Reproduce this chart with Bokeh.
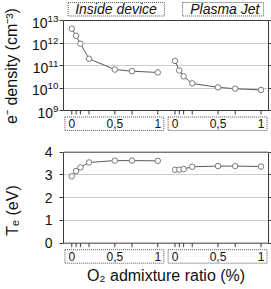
import math
from bokeh.plotting import figure
from bokeh.models import LogAxis, LinearAxis, FixedTicker, Span, Range1d, Grid
from bokeh.layouts import column
from bokeh.embed import file_html
from bokeh.resources import INLINE
from bokeh.core.properties import value

# ---------------- data ----------------
o2_ratio = [0.0, 0.05, 0.1, 0.2, 0.5, 0.7, 1.0]          # O2 admixture ratio (%)
inside_ne = [4.3e12, 2.1e12, 9.3e11, 2.0e11, 6.6e10, 5.6e10, 4.9e10]
jet_ne = [1.6e11, 6.0e10, 3.3e10, 1.6e10, 1.07e10, 9.3e9, 8.2e9]
inside_te = [2.94, 3.17, 3.33, 3.55, 3.63, 3.63, 3.62]
jet_te = [3.23, 3.23, 3.26, 3.36, 3.39, 3.39, 3.37]
group_names = ["Inside device", "Plasma Jet"]
tick_values = [0.0, 0.5, 1.0]
tick_labels = ["0", "0,5", "1"]
ne_ticks = [1e9, 1e10, 1e11, 1e12, 1e13]
te_ticks = [0, 1, 2, 3, 4]
x_title = "O\u2082 admixture ratio (%)"

# ---------------- layout / style ----------------
FONT = "Liberation Sans"
AX = "#3a3a3a"
GRID = "#9a9a9a"
BOX = "#555555"
MK = "#7a7a7a"
LN = "#5a5a5a"
GROUP_OFFSET = [0.0, 1.2]        # shared x axis: second segment shifted
X_RANGE = (-0.0965, 2.287)
FRAME_W = 205
DEC_PX = 22.5                     # pixels per decade (top)
UNIT_PX = 22.75                   # pixels per eV (bottom)

xs_all = [v + off for off in GROUP_OFFSET for v in o2_ratio]
lab_x = [v + off for off in GROUP_OFFSET for v in tick_values]
lab_t = tick_labels * len(GROUP_OFFSET)


def base_fig(y_range, y_type, frame_h):
    p = figure(frame_width=FRAME_W, frame_height=frame_h,
               x_range=Range1d(*X_RANGE), y_range=y_range, y_axis_type=y_type,
               x_axis_location=None, y_axis_location=None,
               output_backend="svg", toolbar_location=None,
               min_border_left=61, min_border_right=4,
               min_border_top=0, min_border_bottom=0,
               outline_line_color=None, background_fill_color="white",
               border_fill_color="white")
    p.center = [c for c in p.center if not isinstance(c, Grid)]
    return p


def style_axis(ax, labels=True):
    ax.axis_line_color = AX
    ax.major_tick_line_color = AX
    ax.major_tick_out = 4
    ax.major_tick_in = 0
    ax.minor_tick_line_color = None
    ax.major_label_text_font = FONT
    ax.major_label_text_color = "#111111"
    ax.axis_label_text_font = FONT
    ax.axis_label_text_font_style = "normal"
    ax.axis_label_text_font_size = "16px"
    ax.axis_label_text_color = "#111111"
    if not labels:
        ax.major_label_text_font_size = "1px"
        ax.major_label_text_color = None
        ax.major_label_standoff = 0


def decorate(p, ybot, ytop, shift):
    p.add_layout(Span(location=ybot, dimension="width", line_color=AX, line_width=1))
    p.add_layout(Span(location=ytop, dimension="width", line_color=AX, line_width=1))
    n = len(xs_all)
    p.segment(x0=xs_all, y0=[ybot] * n, x1=xs_all, y1=[shift(ybot, -4)] * n,
              line_color=AX, line_width=1)
    p.quad(left=[off - 0.08 for off in GROUP_OFFSET],
           right=[off + 1.07 for off in GROUP_OFFSET],
           top=shift(ybot, -6.5), bottom=shift(ybot, -20),
           fill_color=None, line_color=BOX, line_width=1, line_dash="1 1")
    p.text(x=lab_x, y=[shift(ybot, -13.25)] * len(lab_x), text=lab_t,
           text_font=value(FONT), text_font_size="12px", text_color="#111111",
           text_align="center", text_baseline="middle")


# ---------------- top panel: electron density ----------------
def ne_shift(y, px):
    return y * 10 ** (px / DEC_PX)


p1 = base_fig(Range1d(ne_shift(1e9, -21), ne_shift(1e13, 20)), "log", 131)

ax = LogAxis(ticker=FixedTicker(ticks=ne_ticks), bounds=(1e9, 1e13),
             axis_label="e\u207b density (cm\u207b\u00b3)")
style_axis(ax)
ax.major_label_text_font_size = "14px"
ax.major_label_standoff = 1
ax.axis_label_standoff = 9
p1.add_layout(ax, "left")
axr = LogAxis(ticker=FixedTicker(ticks=ne_ticks), bounds=(1e9, 1e13))
style_axis(axr, labels=False)
p1.add_layout(axr, "right")
p1.add_layout(Grid(dimension=1, ticker=FixedTicker(ticks=ne_ticks[1:-1]),
                   grid_line_color=GRID, grid_line_dash="1 1", grid_line_width=1))
decorate(p1, 1e9, 1e13, ne_shift)

p1.quad(left=[-0.042, 1.288], right=[1.077, 2.23],
        top=ne_shift(1e13, 18), bottom=ne_shift(1e13, 4.5),
        fill_color=None, line_color=BOX, line_width=1, line_dash="1 1")
p1.text(x=[0.514, 1.779], y=[ne_shift(1e13, 11.3)] * 2, text=group_names,
        text_font=value(FONT), text_font_size="14px", text_font_style="italic",
        text_color="#111111", text_align="center", text_baseline="middle")

for off, ne in zip(GROUP_OFFSET, [inside_ne, jet_ne]):
    x = [v + off for v in o2_ratio]
    p1.line(x, ne, line_color=LN, line_width=1)
    p1.scatter(x, ne, marker="circle", size=5.5, fill_color="white",
               line_color=MK, line_width=1)


# ---------------- bottom panel: electron temperature ----------------
def te_shift(y, px):
    return y + px / UNIT_PX


p2 = base_fig(Range1d(te_shift(0, -46.3), te_shift(4, 20.7)), "linear", 158)

ax2 = LinearAxis(ticker=FixedTicker(ticks=te_ticks), bounds=(0, 4),
                 axis_label="T\u2091 (eV)")
style_axis(ax2)
ax2.major_label_text_font_size = "14px"
ax2.major_label_standoff = 7
ax2.axis_label_standoff = 21
p2.add_layout(ax2, "left")
ax2r = LinearAxis(ticker=FixedTicker(ticks=te_ticks), bounds=(0, 4))
style_axis(ax2r, labels=False)
p2.add_layout(ax2r, "right")
p2.add_layout(Grid(dimension=1, ticker=FixedTicker(ticks=te_ticks[1:-1]),
                   grid_line_color=GRID, grid_line_dash="1 1", grid_line_width=1))
decorate(p2, 0, 4, te_shift)

for off, te in zip(GROUP_OFFSET, [inside_te, jet_te]):
    x = [v + off for v in o2_ratio]
    p2.line(x, te, line_color=LN, line_width=1)
    p2.scatter(x, te, marker="circle", size=5.5, fill_color="white",
               line_color=MK, line_width=1)

# x-axis title, centred under the frame
p2.text(x=[sum(X_RANGE) / 2], y=[te_shift(0, -32.5)], text=[x_title],
        text_font=value(FONT), text_font_size="16px", text_color="#111111",
        text_align="center", text_baseline="middle")

layout = column(p1, p2, spacing=0)
open("out.html", "w").write(file_html(layout, INLINE))
